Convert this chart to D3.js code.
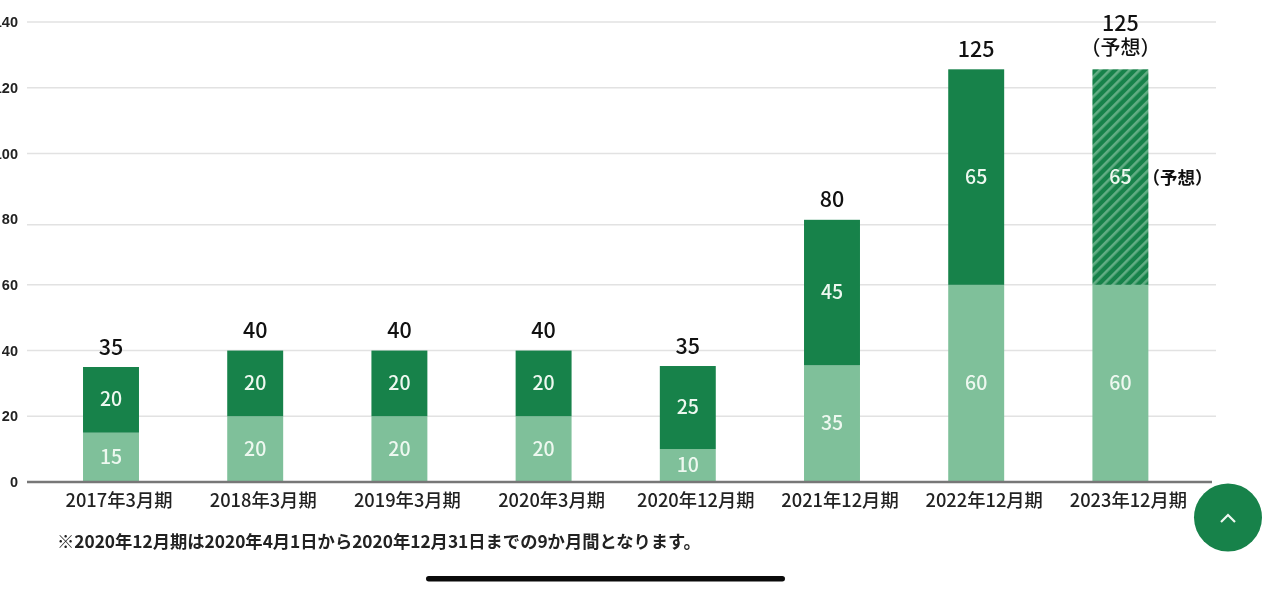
<!DOCTYPE html>
<html lang="ja">
<head>
<meta charset="utf-8">
<script src="https://cdn.jsdelivr.net/npm/d3@7"></script>
<style>
    html, body { margin: 0; padding: 0; background: #fff; overflow: hidden; }
    text { font-family: "Noto Sans CJK JP", "Noto Sans", sans-serif; }
    /* the reference is a soft, upscaled screenshot */
    svg { filter: blur(0.4px); }
</style>
</head>
<body>
<svg id="chart" width="1279" height="591"></svg>
<script>
const categories = ["2017年3月期", "2018年3月期", "2019年3月期", "2020年3月期", "2020年12月期", "2021年12月期", "2022年12月期", "2023年12月期"];
// drawn heights, they differ slightly from the printed labels
const lowerValues = [15, 20, 20, 20, 10, 35.5, 60, 60];
const upperValues = [20, 20, 20, 20, 25.3, 44.3, 65.6, 65.6];
const lowerLabels = [15, 20, 20, 20, 10, 35, 60, 60];
const upperLabels = [20, 20, 20, 20, 25, 45, 65, 65];
const totalLabels = [35, 40, 40, 40, 35, 80, 125, 125];
const forecast = [false, false, false, false, false, false, false, true];
const yTicks = [0, 20, 40, 60, 80, 100, 120, 140];
// the 80 line sits lower than its tick label in the screenshot
const gridValues = [20, 40, 60, 78.3, 100, 120, 140];
const note = "※2020年12月期は2020年4月1日から2020年12月31日までの9か月間となります。";

const dark = "#17824a";
const light = "#7fc09a";
const labelColor = "#222";

const svg = d3.select("#chart");

const x = d3
    .scaleBand()
    .domain(categories)
    .range([38.9, 1192.5])
    .paddingInner(0.612)
    .paddingOuter(0.306);

const y = d3
    .scaleLinear()
    .domain([0, 140])
    .range([482, 22]);

const table = categories.map((c, i) => ({ category: c, lower: lowerValues[i], upper: upperValues[i], i }));
const stacked = d3.stack().keys(["lower", "upper"])(table);

const pattern = svg
    .append("defs")
    .append("pattern")
    .attr("id", "hatch")
    .attr("width", 7)
    .attr("height", 7)
    .attr("patternUnits", "userSpaceOnUse")
    .attr("patternTransform", "rotate(45)");

pattern.append("rect").attr("width", 7).attr("height", 7).attr("fill", dark);
pattern.append("rect").attr("width", 2.6).attr("height", 7).attr("fill", "#62ad84");

// grid
svg
    .append("g")
    .selectAll("line")
    .data(gridValues)
    .join("line")
    .attr("x1", 27)
    .attr("x2", 1216)
    .attr("y1", (d) => y(d))
    .attr("y2", (d) => y(d))
    .attr("stroke", "#e2e2e2")
    .attr("stroke-width", 1.5);

// y axis, the first digit is cut off by the window edge like in the screenshot
const yAxis = svg
    .append("g")
    .attr("transform", "translate(18,0)")
    .call(d3.axisLeft(y).tickValues(yTicks).tickSize(0).tickPadding(0));
yAxis.select(".domain").remove();
yAxis
    .selectAll("text")
    .attr("fill", labelColor)
    .style("font-family", "'Liberation Sans', sans-serif")
    .style("font-size", "14.5px")
    .style("font-weight", 700);

// bars
svg
    .append("g")
    .selectAll("g")
    .data(stacked)
    .join("g")
    .selectAll("rect")
    .data((s) => s.map((d) => ({ d, key: s.key })))
    .join("rect")
    .attr("x", (b) => x(b.d.data.category))
    .attr("width", x.bandwidth())
    .attr("y", (b) => y(b.d[1]))
    .attr("height", (b) => y(b.d[0]) - y(b.d[1]))
    .attr("fill", (b) => {
        if (b.key === "lower") {
            return light;
        }
        return forecast[b.d.data.i] ? "url(#hatch)" : dark;
    });

// x axis, its labels sit about 8px right of the bars in the reference
const xAxis = svg
    .append("g")
    .attr("transform", "translate(0,482)")
    .call(d3.axisBottom(x).tickSize(0).tickPadding(12.5));
xAxis.select(".domain").remove();
xAxis
    .selectAll("text")
    .attr("dx", 8)
    .attr("fill", labelColor)
    .style("font-family", "'Noto Sans CJK JP', sans-serif")
    .style("font-size", "18.3px")
    .style("font-weight", 500);

svg
    .append("line")
    .attr("x1", 27)
    .attr("x2", 1212)
    .attr("y1", y(0))
    .attr("y2", y(0))
    .attr("stroke", "#777")
    .attr("stroke-width", 2.5);

// labels inside the segments
svg
    .append("g")
    .selectAll("text")
    .data(stacked.flatMap((s) => s.map((d) => ({ d, key: s.key }))))
    .join("text")
    .attr("x", (b) => x(b.d.data.category) + x.bandwidth() / 2)
    .attr("y", (b) => y((b.d[0] + b.d[1]) / 2) - 0.5)
    .attr("dy", "0.36em")
    .attr("text-anchor", "middle")
    .attr("font-size", 19.5)
    .attr("font-weight", 500)
    .attr("fill", "#eef8f0")
    .text((b) => (b.key === "lower" ? lowerLabels[b.d.data.i] : upperLabels[b.d.data.i]));

// totals above the bars
svg
    .append("g")
    .selectAll("text")
    .data(table)
    .join("text")
    .attr("x", (d) => x(d.category) + x.bandwidth() / 2)
    .attr("y", (d) => y(d.lower + d.upper) - (forecast[d.i] ? 38 : 12.5))
    .attr("text-anchor", "middle")
    .attr("font-size", 21.5)
    .attr("font-weight", 500)
    .attr("fill", "#111")
    .text((d) => totalLabels[d.i]);

const last = table[table.length - 1];
const lastCenter = x(last.category) + x.bandwidth() / 2;

svg
    .append("text")
    .attr("x", lastCenter)
    .attr("y", 55)
    .attr("text-anchor", "middle")
    .attr("font-size", 20)
    .attr("font-weight", 500)
    .attr("fill", "#111")
    .text("（予想）");

svg
    .append("text")
    .attr("x", lastCenter + 57)
    .attr("y", 184)
    .attr("text-anchor", "middle")
    .attr("font-size", 17.5)
    .attr("font-weight", 700)
    .attr("fill", "#111")
    .text("（予想）");

svg
    .append("text")
    .attr("x", 57)
    .attr("y", 548)
    .attr("font-size", 17.3)
    .attr("font-weight", 700)
    .attr("fill", "#222")
    .text(note);

// scroll-to-top button and the phone's home bar
svg
    .append("circle")
    .attr("cx", 1228)
    .attr("cy", 517.5)
    .attr("r", 34)
    .attr("fill", dark);

svg
    .append("path")
    .attr("d", d3.line()([[1221, 522], [1228, 515], [1235, 522]]))
    .attr("fill", "none")
    .attr("stroke", "#eef8f0")
    .attr("stroke-width", 2.2);

svg
    .append("rect")
    .attr("x", 426)
    .attr("y", 576)
    .attr("width", 359)
    .attr("height", 5.5)
    .attr("rx", 2.75)
    .attr("fill", "#0a0a0a");
</script>
</body>
</html>
